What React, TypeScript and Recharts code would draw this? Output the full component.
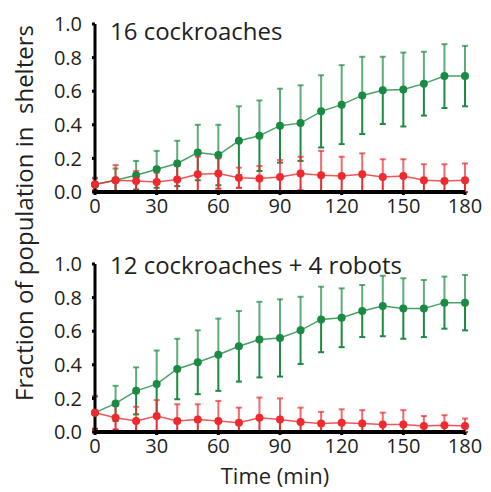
import React from 'react';
import { LineChart, Line, XAxis, YAxis, ErrorBar } from 'recharts';

const times = [0, 10, 20, 30, 40, 50, 60, 70, 80, 90, 100, 110, 120, 130, 140, 150, 160, 170, 180];
const xTicks = [0, 30, 60, 90, 120, 150, 180];
const yTicks = [0, 0.2, 0.4, 0.6, 0.8, 1.0];

// 16 cockroaches
const greenTop = [0.045, 0.07, 0.1, 0.135, 0.17, 0.235, 0.22, 0.305, 0.335, 0.395, 0.41, 0.48, 0.52, 0.575, 0.605, 0.61, 0.645, 0.69, 0.69];
const greenTopSd = [0.04, 0.07, 0.085, 0.11, 0.135, 0.165, 0.18, 0.205, 0.21, 0.22, 0.225, 0.215, 0.235, 0.23, 0.2, 0.22, 0.19, 0.19, 0.18];
const redTop = [0.045, 0.07, 0.065, 0.06, 0.075, 0.105, 0.11, 0.085, 0.08, 0.09, 0.11, 0.1, 0.095, 0.105, 0.09, 0.095, 0.07, 0.065, 0.07];
const redTopSd = [0.035, 0.09, 0.06, 0.055, 0.08, 0.105, 0.09, 0.06, 0.075, 0.1, 0.1, 0.145, 0.115, 0.125, 0.105, 0.1, 0.095, 0.1, 0.1];

// 12 cockroaches + 4 robots
const greenBot = [0.115, 0.17, 0.245, 0.285, 0.375, 0.415, 0.46, 0.51, 0.55, 0.56, 0.605, 0.67, 0.68, 0.72, 0.75, 0.735, 0.735, 0.77, 0.77];
const greenBotSd = [0.1, 0.105, 0.14, 0.2, 0.18, 0.19, 0.215, 0.21, 0.225, 0.23, 0.2, 0.195, 0.175, 0.155, 0.18, 0.18, 0.17, 0.155, 0.165];
const redBot = [0.115, 0.085, 0.065, 0.095, 0.065, 0.075, 0.065, 0.055, 0.085, 0.075, 0.06, 0.05, 0.055, 0.05, 0.045, 0.045, 0.035, 0.04, 0.035];
const redBotSd = [0.095, 0.07, 0.085, 0.095, 0.1, 0.09, 0.12, 0.09, 0.12, 0.125, 0.085, 0.07, 0.08, 0.08, 0.07, 0.085, 0.06, 0.06, 0.045];

const GREEN = '#1b8a42';
const RED = '#ee2a2e';
const FONT = '"Open Sans", sans-serif';

function buildRows(g: number[], gs: number[], r: number[], rs: number[]) {
  return times.map((t, i) => ({
    t,
    g: g[i],
    gUp: [0, gs[i]],
    gDn: [Math.min(gs[i], g[i]), 0],
    r: r[i],
    rUp: [0, rs[i]],
    rDn: [Math.min(rs[i], r[i]), 0],
  }));
}

const tickStyle = { fontSize: 20, fill: '#231f20', fontFamily: FONT };

function Panel({ rows }: { rows: ReturnType<typeof buildRows> }) {
  return (
    <LineChart width={491} height={240} data={rows}
      margin={{ top: 24, right: 26, left: 35, bottom: 18 }}>
      <XAxis dataKey="t" type="number" domain={[0, 180]} ticks={xTicks}
        axisLine={{ stroke: '#000', strokeWidth: 4 }} tickLine={{ stroke: '#000', strokeWidth: 3 }}
        tickSize={3} tick={tickStyle} height={30} tickMargin={4} />
      <YAxis type="number" domain={[0, 1]} ticks={yTicks} width={60}
        tickFormatter={(v: number) => v.toFixed(1)}
        axisLine={{ stroke: '#000', strokeWidth: 3 }} tickLine={{ stroke: '#000', strokeWidth: 3 }}
        tickSize={3} tick={tickStyle} tickMargin={10} />
      <Line dataKey="g" stroke={GREEN} strokeOpacity={0.8} strokeWidth={1.5}
        dot={{ r: 4, fill: GREEN, stroke: 'none' }} isAnimationActive={false}>
        <ErrorBar dataKey="gUp" width={3} stroke={GREEN} strokeOpacity={0.7} strokeWidth={2} />
        <ErrorBar dataKey="gDn" width={3} stroke={GREEN} strokeWidth={2} />
      </Line>
      <Line dataKey="r" stroke={RED} strokeOpacity={0.8} strokeWidth={1.5}
        dot={{ r: 4, fill: RED, stroke: 'none' }} isAnimationActive={false}>
        <ErrorBar dataKey="rUp" width={3} stroke={RED} strokeOpacity={0.7} strokeWidth={2} />
        <ErrorBar dataKey="rDn" width={3} stroke={RED} strokeWidth={2} />
      </Line>
    </LineChart>
  );
}

export default function App() {
  const top = buildRows(greenTop, greenTopSd, redTop, redTopSd);
  const bot = buildRows(greenBot, greenBotSd, redBot, redBotSd);
  return (
    <div style={{ position: 'absolute', left: 0, top: 0, width: 491, height: 492, background: '#fff' }}>
      <div style={{ position: 'absolute', left: 0, top: 0 }}>
        <Panel rows={top} />
      </div>
      <div style={{ position: 'absolute', left: 0, top: 240 }}>
        <Panel rows={bot} />
      </div>
      <svg width={491} height={492} style={{ position: 'absolute', left: 0, top: 0, pointerEvents: 'none' }}>
        <text x={110} y={40} fontSize={24} fill="#231f20" fontFamily={FONT}>16 cockroaches</text>
        <text x={110} y={274} fontSize={24} fill="#231f20" fontFamily={FONT}>12 cockroaches + 4 robots</text>
        <text x={33} y={213} fontSize={24} fill="#231f20" fontFamily={FONT} textAnchor="middle"
          transform="rotate(-90 33 213)" style={{ whiteSpace: 'pre' }}>Fraction of population in  shelters</text>
        <text x={275} y={484} fontSize={22} fill="#231f20" fontFamily={FONT} textAnchor="middle">Time (min)</text>
      </svg>
    </div>
  );
}
